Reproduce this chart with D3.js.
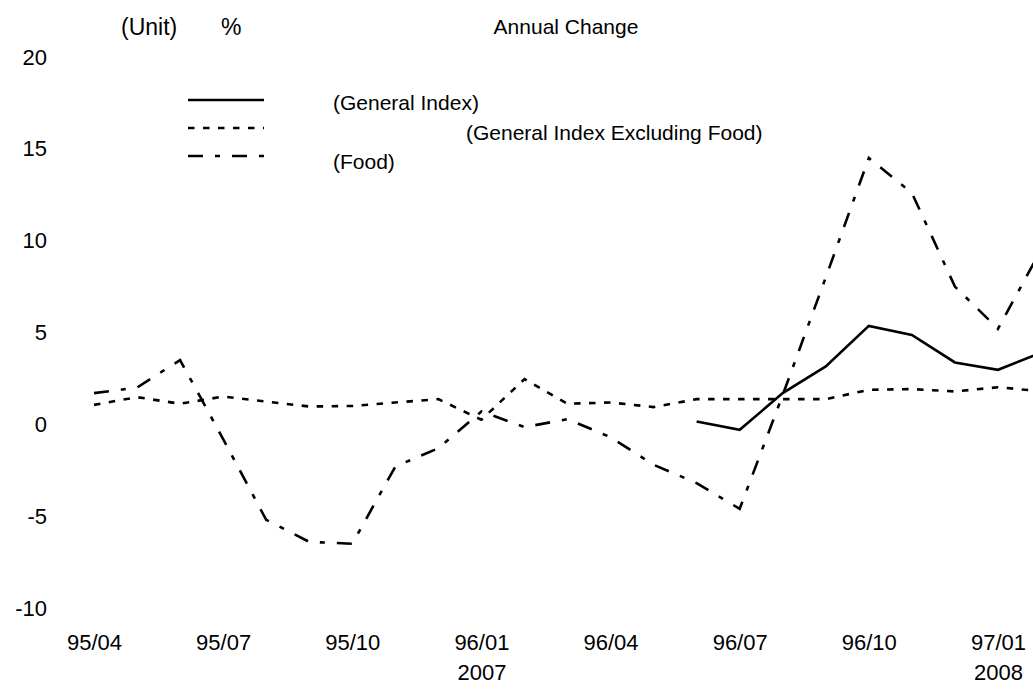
<!DOCTYPE html>
<html>
<head>
<meta charset="utf-8">
<script src="https://cdn.jsdelivr.net/npm/d3@7/dist/d3.min.js"></script>
<style>
  html, body { margin: 0; padding: 0; background: #fff; }
  svg text { font-family: "Liberation Sans", Arial, sans-serif; fill: #000; }
</style>
</head>
<body>
<svg id="chart" width="1033" height="690"></svg>
<script>
// ---- data ----
const months = ["95/04","95/05","95/06","95/07","95/08","95/09","95/10","95/11","95/12",
                "96/01","96/02","96/03","96/04","96/05","96/06","96/07","96/08","96/09",
                "96/10","96/11","96/12","97/01","97/02"];
const generalIndex = [null,null,null,null,null,null,null,null,null,null,null,null,null,null,
                      0.15,-0.3,1.7,3.15,5.36,4.87,3.37,2.97,3.9];
const excludingFood = [1.06,1.48,1.12,1.51,1.24,0.97,1.0,1.19,1.37,0.25,2.46,1.12,1.19,0.94,
                       1.37,1.37,1.37,1.37,1.88,1.92,1.79,2.02,1.8];
const food = [1.7,2.0,3.5,-0.8,-5.2,-6.4,-6.5,-2.3,-1.3,0.7,-0.15,0.28,-0.7,-2.2,
              -3.2,-4.6,1.6,8.0,14.5,12.6,7.5,5.2,9.5];
const xTickLabels = ["95/04","95/07","95/10","96/01","96/04","96/07","96/10","97/01"];
const yearLabels = {"96/01":"2007","97/01":"2008"};
const yTicks = [-10,-5,0,5,10,15,20];
const seriesNames = ["(General Index)","(General Index Excluding Food)","(Food)"];

const svg = d3.select("#chart");
const x = d3.scalePoint().domain(months).range([94, 1041]);
const y = d3.scaleLinear().domain([-10, 20]).range([608, 57]);

// y axis (labels only)
const yAxis = d3.axisLeft(y).tickValues(yTicks).tickSize(0).tickPadding(0).tickFormat(d => String(d));
const gy = svg.append("g").attr("transform", "translate(47,0)").call(yAxis);
gy.select(".domain").remove();
gy.selectAll("text").style("font-size", "22px").style("font-family", "Liberation Sans, Arial, sans-serif").attr("fill", "#000");

// x axis (labels only)
const xAxis = d3.axisBottom(x).tickValues(xTickLabels).tickSize(0).tickPadding(0);
const gx = svg.append("g").attr("transform", "translate(0,634)").call(xAxis);
gx.select(".domain").remove();
gx.selectAll("text").style("font-size", "22px").style("font-family", "Liberation Sans, Arial, sans-serif").attr("fill", "#000");
gx.selectAll(".tick").filter(d => yearLabels[d]).append("text")
  .attr("y", 30).attr("dy", "0.71em").attr("text-anchor", "middle")
  .style("font-size", "22px").attr("fill", "#000")
  .text(d => yearLabels[d]);

// titles
svg.append("text").attr("x", 121).attr("y", 35).style("font-size", "23px").text("(Unit)");
svg.append("text").attr("x", 221).attr("y", 35).style("font-size", "23px").text("%");
svg.append("text").attr("x", 566).attr("y", 34).attr("text-anchor", "middle").style("font-size", "21px").text("Annual Change");

// lines
const line = d3.line().defined(d => d[1] != null).x(d => x(d[0])).y(d => y(d[1]));
const styles = [
  { data: generalIndex, dash: null, w: 2.6 },
  { data: excludingFood, dash: "6.5,8.5", w: 2.6 },
  { data: food, dash: "15,12,5,12", w: 2.6 }
];
styles.forEach(s => {
  svg.append("path")
    .datum(months.map((m, i) => [m, s.data[i]]))
    .attr("fill", "none").attr("stroke", "#000")
    .attr("stroke-width", s.w)
    .attr("stroke-dasharray", s.dash)
    .attr("d", line);
});

// legend
const legendY = [100, 128, 156];
const legendTextX = [333, 466, 333];
const legendTextY = [110, 140, 169];
styles.forEach((s, i) => {
  svg.append("line").attr("x1", 188).attr("x2", 264).attr("y1", legendY[i]).attr("y2", legendY[i])
    .attr("stroke", "#000").attr("stroke-width", s.w).attr("stroke-dasharray", s.dash);
  svg.append("text").attr("x", legendTextX[i]).attr("y", legendTextY[i])
    .style("font-size", "21px").text(seriesNames[i]);
});
</script>
</body>
</html>
